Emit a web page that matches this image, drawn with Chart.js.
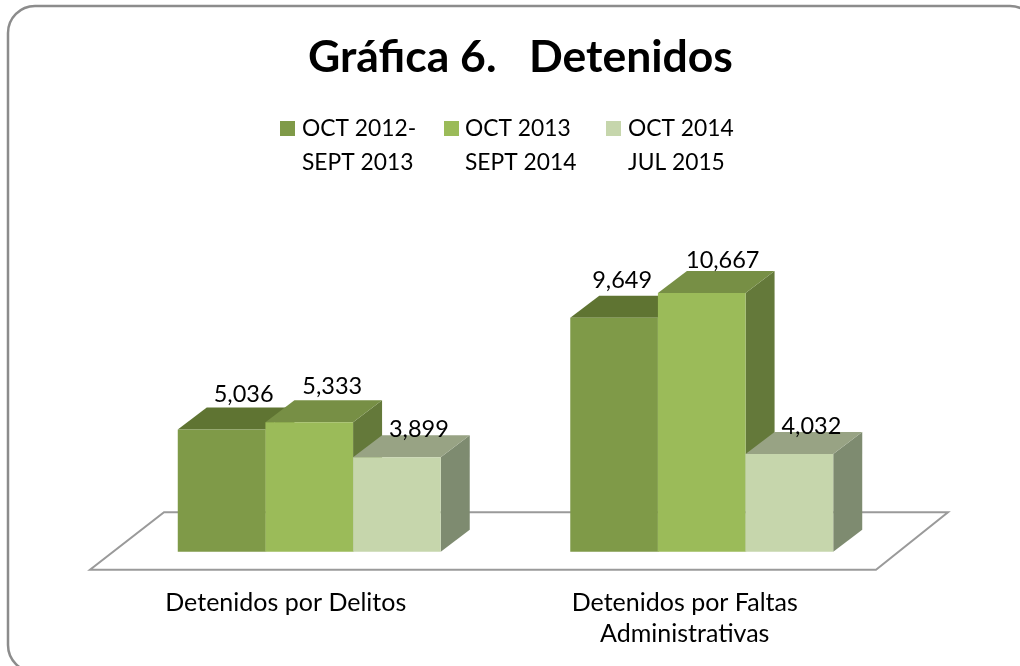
<!DOCTYPE html>
<html><head><meta charset="utf-8">
<style>html,body{margin:0;padding:0;background:#fff}#w{position:relative;width:1020px;height:666px}canvas{display:block}</style>
<script src="https://cdn.jsdelivr.net/npm/chart.js@4"></script></head>
<body><div id="w"><canvas id="c" width="1020" height="666"></canvas></div>
<script>
const titleText = 'Gráfica 6.   Detenidos';
const categories = [['Detenidos por Delitos'], ['Detenidos por Faltas', 'Administrativas']];
const seriesLabels = [['OCT 2012-', 'SEPT 2013'], ['OCT 2013', 'SEPT 2014'], ['OCT 2014', 'JUL 2015']];
const series1 = [5036, 9649];
const series2 = [5333, 10667];
const series3 = [3899, 4032];
const frontColors = ['#7F9A48', '#9BBB59', '#C6D6AC'];
const topColors = ['#5F7432', '#778F45', '#98A384'];
const sideColors = ['#5F7432', '#64793A', '#7E8B70'];
const FONT = 'Lato, Carlito, sans-serif';
const DX = 29, DY = 22;
const nudge = [[[22,-35],[8,-37]], [[23,-36],[21,-33]], [[22,-28],[22,-28]]];
const legendX = [280, 444, 606];

const threeD = {
  id: 'threeD',
  afterUpdate(chart) {
    const items = chart.scales.x.getLabelItems(chart.chartArea);
    const shift = [-23.5, -17];
    items.forEach((it, i) => {
      it.options.translation = [it.options.translation[0] + shift[i], it.options.translation[1]];
    });
    chart.titleBlock.left += 15;
    chart.titleBlock.right += 15;
  },
  beforeDraw(chart) {
    const c = chart.ctx;
    c.save(); c.fillStyle = '#fff'; c.fillRect(0, 0, chart.width, chart.height);
    c.strokeStyle = '#8c8c8c'; c.lineWidth = 2.5;
    c.beginPath(); c.roundRect(8, 6, 1029, 666, 27); c.stroke();
    c.restore();
  },
  beforeDatasetsDraw(chart) {
    const c = chart.ctx, x = chart.scales.x, y = chart.scales.y;
    const base = y.getPixelForValue(0);
    const L = x.left, R = x.right;
    c.save(); c.strokeStyle = '#9a9a9a'; c.lineWidth = 2; c.lineJoin = 'miter';
    c.beginPath();
    c.moveTo(L - 23, base + 18); c.lineTo(R - 22, base + 18);
    c.lineTo(R + 50, base - 39.5); c.lineTo(L + 51, base - 39.5); c.closePath(); c.stroke();
    c.restore();
    // the depth faces need each bar painted left to right, so the library's bar elements are drawn here
    chart.data.datasets.forEach((ds, i) => {
      chart.getDatasetMeta(i).data.forEach(b => {
        const l = b.x - b.width / 2, r = b.x + b.width / 2, t = b.y, bt = b.base;
        c.save();
        c.fillStyle = sideColors[i];
        c.beginPath(); c.moveTo(r, t); c.lineTo(r + DX, t - DY); c.lineTo(r + DX, bt - DY); c.lineTo(r, bt); c.closePath(); c.fill();
        c.fillStyle = topColors[i];
        c.beginPath(); c.moveTo(l, t); c.lineTo(l + DX, t - DY); c.lineTo(r + DX, t - DY); c.lineTo(r, t); c.closePath(); c.fill();
        c.restore();
        b.draw(c);
      });
    });
  },
  beforeDatasetDraw() { return false; },
  afterDatasetsDraw(chart) {
    const c = chart.ctx;
    c.save(); c.fillStyle = '#000'; c.textAlign = 'center'; c.textBaseline = 'middle';
    c.font = '23.5px ' + FONT;
    chart.data.datasets.forEach((ds, i) => {
      chart.getDatasetMeta(i).data.forEach((b, j) => {
        c.fillText(ds.data[j].toLocaleString('en-US'), b.x + nudge[i][j][0], b.y + nudge[i][j][1]);
      });
    });
    // legend
    c.textAlign = 'left';
    c.font = '22.8px ' + FONT;
    chart.data.datasets.forEach((ds, i) => {
      c.fillStyle = ds.backgroundColor;
      c.fillRect(legendX[i], 121, 15, 15);
      c.fillStyle = '#000';
      const tx = [302, 465, 628][i];
      ds.label.forEach((t, k) => c.fillText(t, tx, 129 + k * 34));
    });
    c.restore();
  }
};

new Chart(document.getElementById('c'), {
  type: 'bar',
  data: {
    labels: categories,
    datasets: [
      { label: seriesLabels[0], data: series1, backgroundColor: frontColors[0] },
      { label: seriesLabels[1], data: series2, backgroundColor: frontColors[1] },
      { label: seriesLabels[2], data: series3, backgroundColor: frontColors[2] }
    ]
  },
  options: {
    responsive: false,
    animation: false,
    layout: { padding: { left: 113, right: 122, top: 0, bottom: 0 } },
    datasets: { bar: { categoryPercentage: 0.67, barPercentage: 1 } },
    scales: {
      x: {
        grid: { display: false }, border: { display: false },
        ticks: { color: '#000', font: { family: FONT, size: 25, lineHeight: 1.22 }, maxRotation: 0, autoSkip: false, padding: 28 },
        afterFit(s) { s.height = 114.3; }
      },
      y: { display: false, min: 0, max: 12000, afterFit(s){ s.width = 0; } }
    },
    plugins: {
      legend: { display: false },
      tooltip: { enabled: false },
      title: { display: true, text: titleText, color: '#000',
        font: { family: FONT, size: 44.5, weight: 'bold' }, padding: { top: 31, bottom: 176.3 } }
    }
  },
  plugins: [threeD]
});
</script></body></html>
